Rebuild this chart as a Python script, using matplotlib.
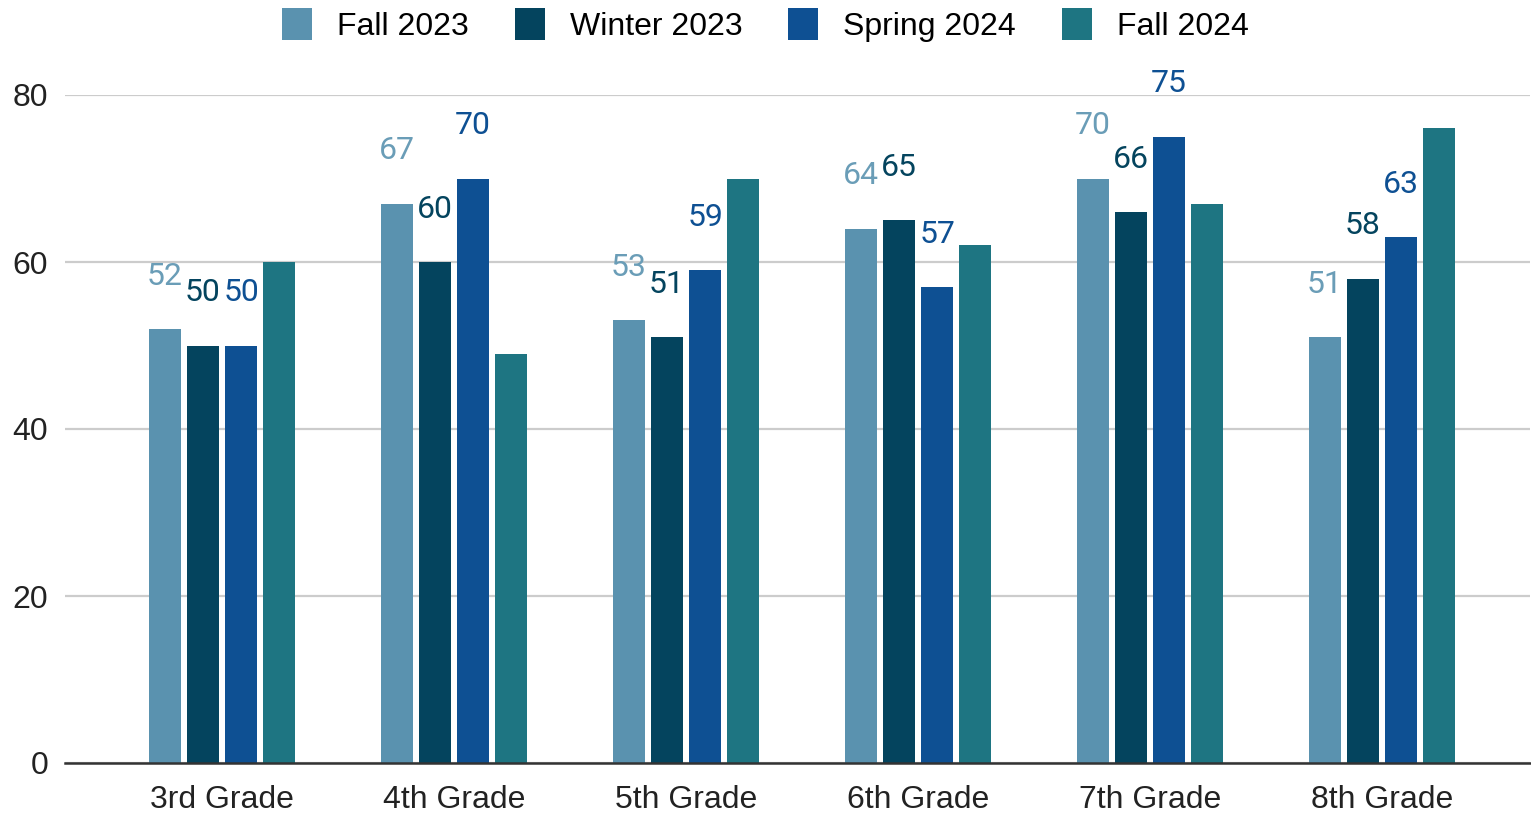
import numpy as np
import matplotlib.pyplot as plt
from matplotlib.patches import Patch

grades = ['3rd Grade', '4th Grade', '5th Grade', '6th Grade', '7th Grade', '8th Grade']
fall_2023 = [52, 67, 53, 64, 70, 51]
winter_2023 = [50, 60, 51, 65, 66, 58]
spring_2024 = [50, 70, 59, 57, 75, 63]
fall_2024 = [60, 49, 70, 62, 67, 76]
series_names = ['Fall 2023', 'Winter 2023', 'Spring 2024', 'Fall 2024']
yticks = [0, 20, 40, 60, 80]

colors = ['#5a92af', '#04445e', '#0e5093', '#1e7582']
label_colors = ['#6a9db7', '#04445e', '#0e5093', None]

plt.rcParams['font.family'] = ['Liberation Sans', 'DejaVu Sans']

fig = plt.figure(figsize=(15.31, 8.14), dpi=100)
ax = fig.add_axes([65/1531, 51/814, 1465/1531, 668/814])

x = np.arange(len(grades))
pitch = 0.165
width = 0.138
all_series = [fall_2023, winter_2023, spring_2024, fall_2024]
for k, vals in enumerate(all_series):
    xs = x + (k - 1.5) * pitch
    ax.bar(xs, vals, width=width, color=colors[k], zorder=3)
    if label_colors[k] is not None:
        for xi, v in zip(xs, vals):
            ax.annotate(str(v), (xi, v), xytext=(0, 38), textcoords='offset points',
                        ha='center', va='center', fontsize=23, color=label_colors[k],
                        family='Roboto', annotation_clip=False)

ax.set_xlim(-0.677, 5.638)
ax.set_ylim(0, 80)
ax.set_yticks(yticks)
ax.set_xticks(x)
ax.set_xticklabels(grades)
ax.tick_params(axis='both', length=0, labelsize=23, colors='#222222')
ax.tick_params(axis='y', pad=12)
ax.tick_params(axis='x', pad=16)
ax.grid(axis='y', color='#cccccc', linewidth=1.6, zorder=0)
for s in ['top', 'right', 'left']:
    ax.spines[s].set_visible(False)
ax.spines['bottom'].set_color('#333333')
ax.spines['bottom'].set_linewidth(1.8)
ax.spines['bottom'].set_zorder(4)

handles = [Patch(facecolor=c, label=n) for c, n in zip(colors, series_names)]
fig.legend(handles=handles, loc='upper center', bbox_to_anchor=(0.5, 1.025), ncol=4,
           frameon=False, fontsize=23, handlelength=0.94, handleheight=1.13,
           handletextpad=0.78, columnspacing=1.44)

fig.savefig('out.png', dpi=100)
